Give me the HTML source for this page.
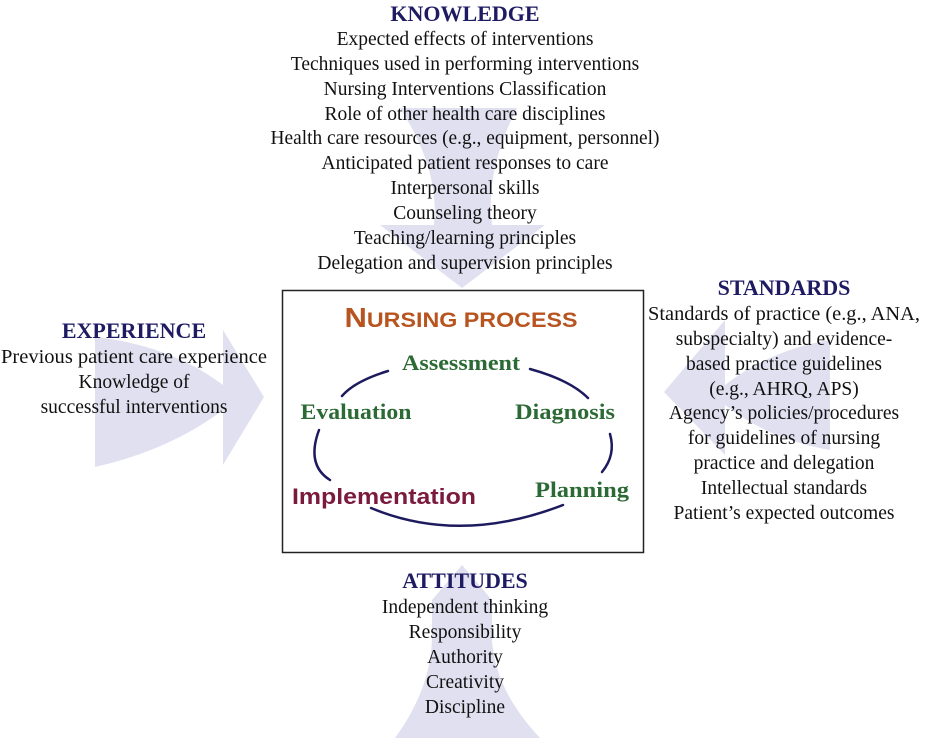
<!DOCTYPE html>
<html><head><meta charset="utf-8"><style>
html,body{margin:0;padding:0;background:#fff;}
body{width:933px;height:738px;position:relative;overflow:hidden;}
svg{position:absolute;left:0;top:0;}
.s{font-family:"Liberation Serif",serif;}
</style></head><body>
<svg width="933" height="738" viewBox="0 0 933 738">
<g fill="#e0e0f0">
<path d="M95,337 Q170,345 223,385 L223,330 L264,397 L223,465 L223,410 Q170,450 95,467 Z"/>
<path d="M830,340 Q770,350 725,385 L725,320 L664,392 L725,455 L725,405 Q770,440 830,450 Z"/>
<path d="M400,108 L517,108 Q485,170 492,225 L545,225 L462,288 L380,225 L434,225 Q440,170 400,108 Z"/>
<path d="M395,738 Q430,690 432,640 L432,600 L462,565 L492,600 L492,640 Q495,690 540,738 Z"/>
</g>
<rect x="282.5" y="290.5" width="361" height="262" fill="none" stroke="#222" stroke-width="1.5"/>
<g fill="none" stroke="#1d1a5e" stroke-width="2.5" stroke-linecap="round">
<path d="M388,371 Q355,381 342,396"/>
<path d="M530,369 Q570,380 588,398"/>
<path d="M319,430 Q306,465 330,480"/>
<path d="M610,434 Q616,455 602,472"/>
<path d="M371,508 Q460,545 563,505"/>
</g>
<g class="s" text-anchor="middle" fill="#111" font-size="19.5">
<text x="465" y="21" font-size="22" font-weight="bold" fill="#1f1b63">KNOWLEDGE</text>
<text x="465" y="45">Expected effects of interventions</text>
<text x="465" y="70">Techniques used in performing interventions</text>
<text x="465" y="95">Nursing Interventions Classification</text>
<text x="465" y="120">Role of other health care disciplines</text>
<text x="465" y="144" textLength="389" lengthAdjust="spacingAndGlyphs">Health care resources (e.g., equipment, personnel)</text>
<text x="465" y="169">Anticipated patient responses to care</text>
<text x="465" y="194">Interpersonal skills</text>
<text x="465" y="219">Counseling theory</text>
<text x="465" y="244">Teaching/learning principles</text>
<text x="465" y="269">Delegation and supervision principles</text>

<text x="134" y="338" font-size="22" font-weight="bold" fill="#1f1b63">EXPERIENCE</text>
<text x="134" y="363" textLength="266" lengthAdjust="spacingAndGlyphs">Previous patient care experience</text>
<text x="134" y="388">Knowledge of</text>
<text x="134" y="413">successful interventions</text>

<text x="784" y="295" font-size="22" font-weight="bold" fill="#1f1b63">STANDARDS</text>
<text x="784" y="320" textLength="272" lengthAdjust="spacingAndGlyphs">Standards of practice (e.g., ANA,</text>
<text x="784" y="345">subspecialty) and evidence-</text>
<text x="784" y="370">based practice guidelines</text>
<text x="784" y="395">(e.g., AHRQ, APS)</text>
<text x="784" y="419">Agency’s policies/procedures</text>
<text x="784" y="444">for guidelines of nursing</text>
<text x="784" y="469">practice and delegation</text>
<text x="784" y="494">Intellectual standards</text>
<text x="784" y="519">Patient’s expected outcomes</text>

<text x="465" y="588" font-size="22" font-weight="bold" fill="#1f1b63">ATTITUDES</text>
<text x="465" y="613">Independent thinking</text>
<text x="465" y="638">Responsibility</text>
<text x="465" y="663">Authority</text>
<text x="465" y="688">Creativity</text>
<text x="465" y="713">Discipline</text>

<text x="461" y="370" font-size="22" font-weight="bold" fill="#2c6a35" textLength="118" lengthAdjust="spacingAndGlyphs">Assessment</text>
<text x="356" y="419" font-size="22" font-weight="bold" fill="#2c6a35" textLength="111" lengthAdjust="spacingAndGlyphs">Evaluation</text>
<text x="565" y="419" font-size="22" font-weight="bold" fill="#2c6a35" textLength="100" lengthAdjust="spacingAndGlyphs">Diagnosis</text>
<text x="582" y="497" font-size="22" font-weight="bold" fill="#2c6a35" textLength="94" lengthAdjust="spacingAndGlyphs">Planning</text>
</g>
<text x="384" y="504" text-anchor="middle" font-family="Liberation Sans,sans-serif" font-size="22" font-weight="bold" fill="#7a1a3c" textLength="184" lengthAdjust="spacingAndGlyphs">Implementation</text>
<text x="461" y="327" text-anchor="middle" font-family="Liberation Sans,sans-serif" font-weight="bold" fill="#b8541f" textLength="233" lengthAdjust="spacingAndGlyphs"><tspan font-size="28">N</tspan><tspan font-size="21">URSING PROCESS</tspan></text>
</svg>
</body></html>
